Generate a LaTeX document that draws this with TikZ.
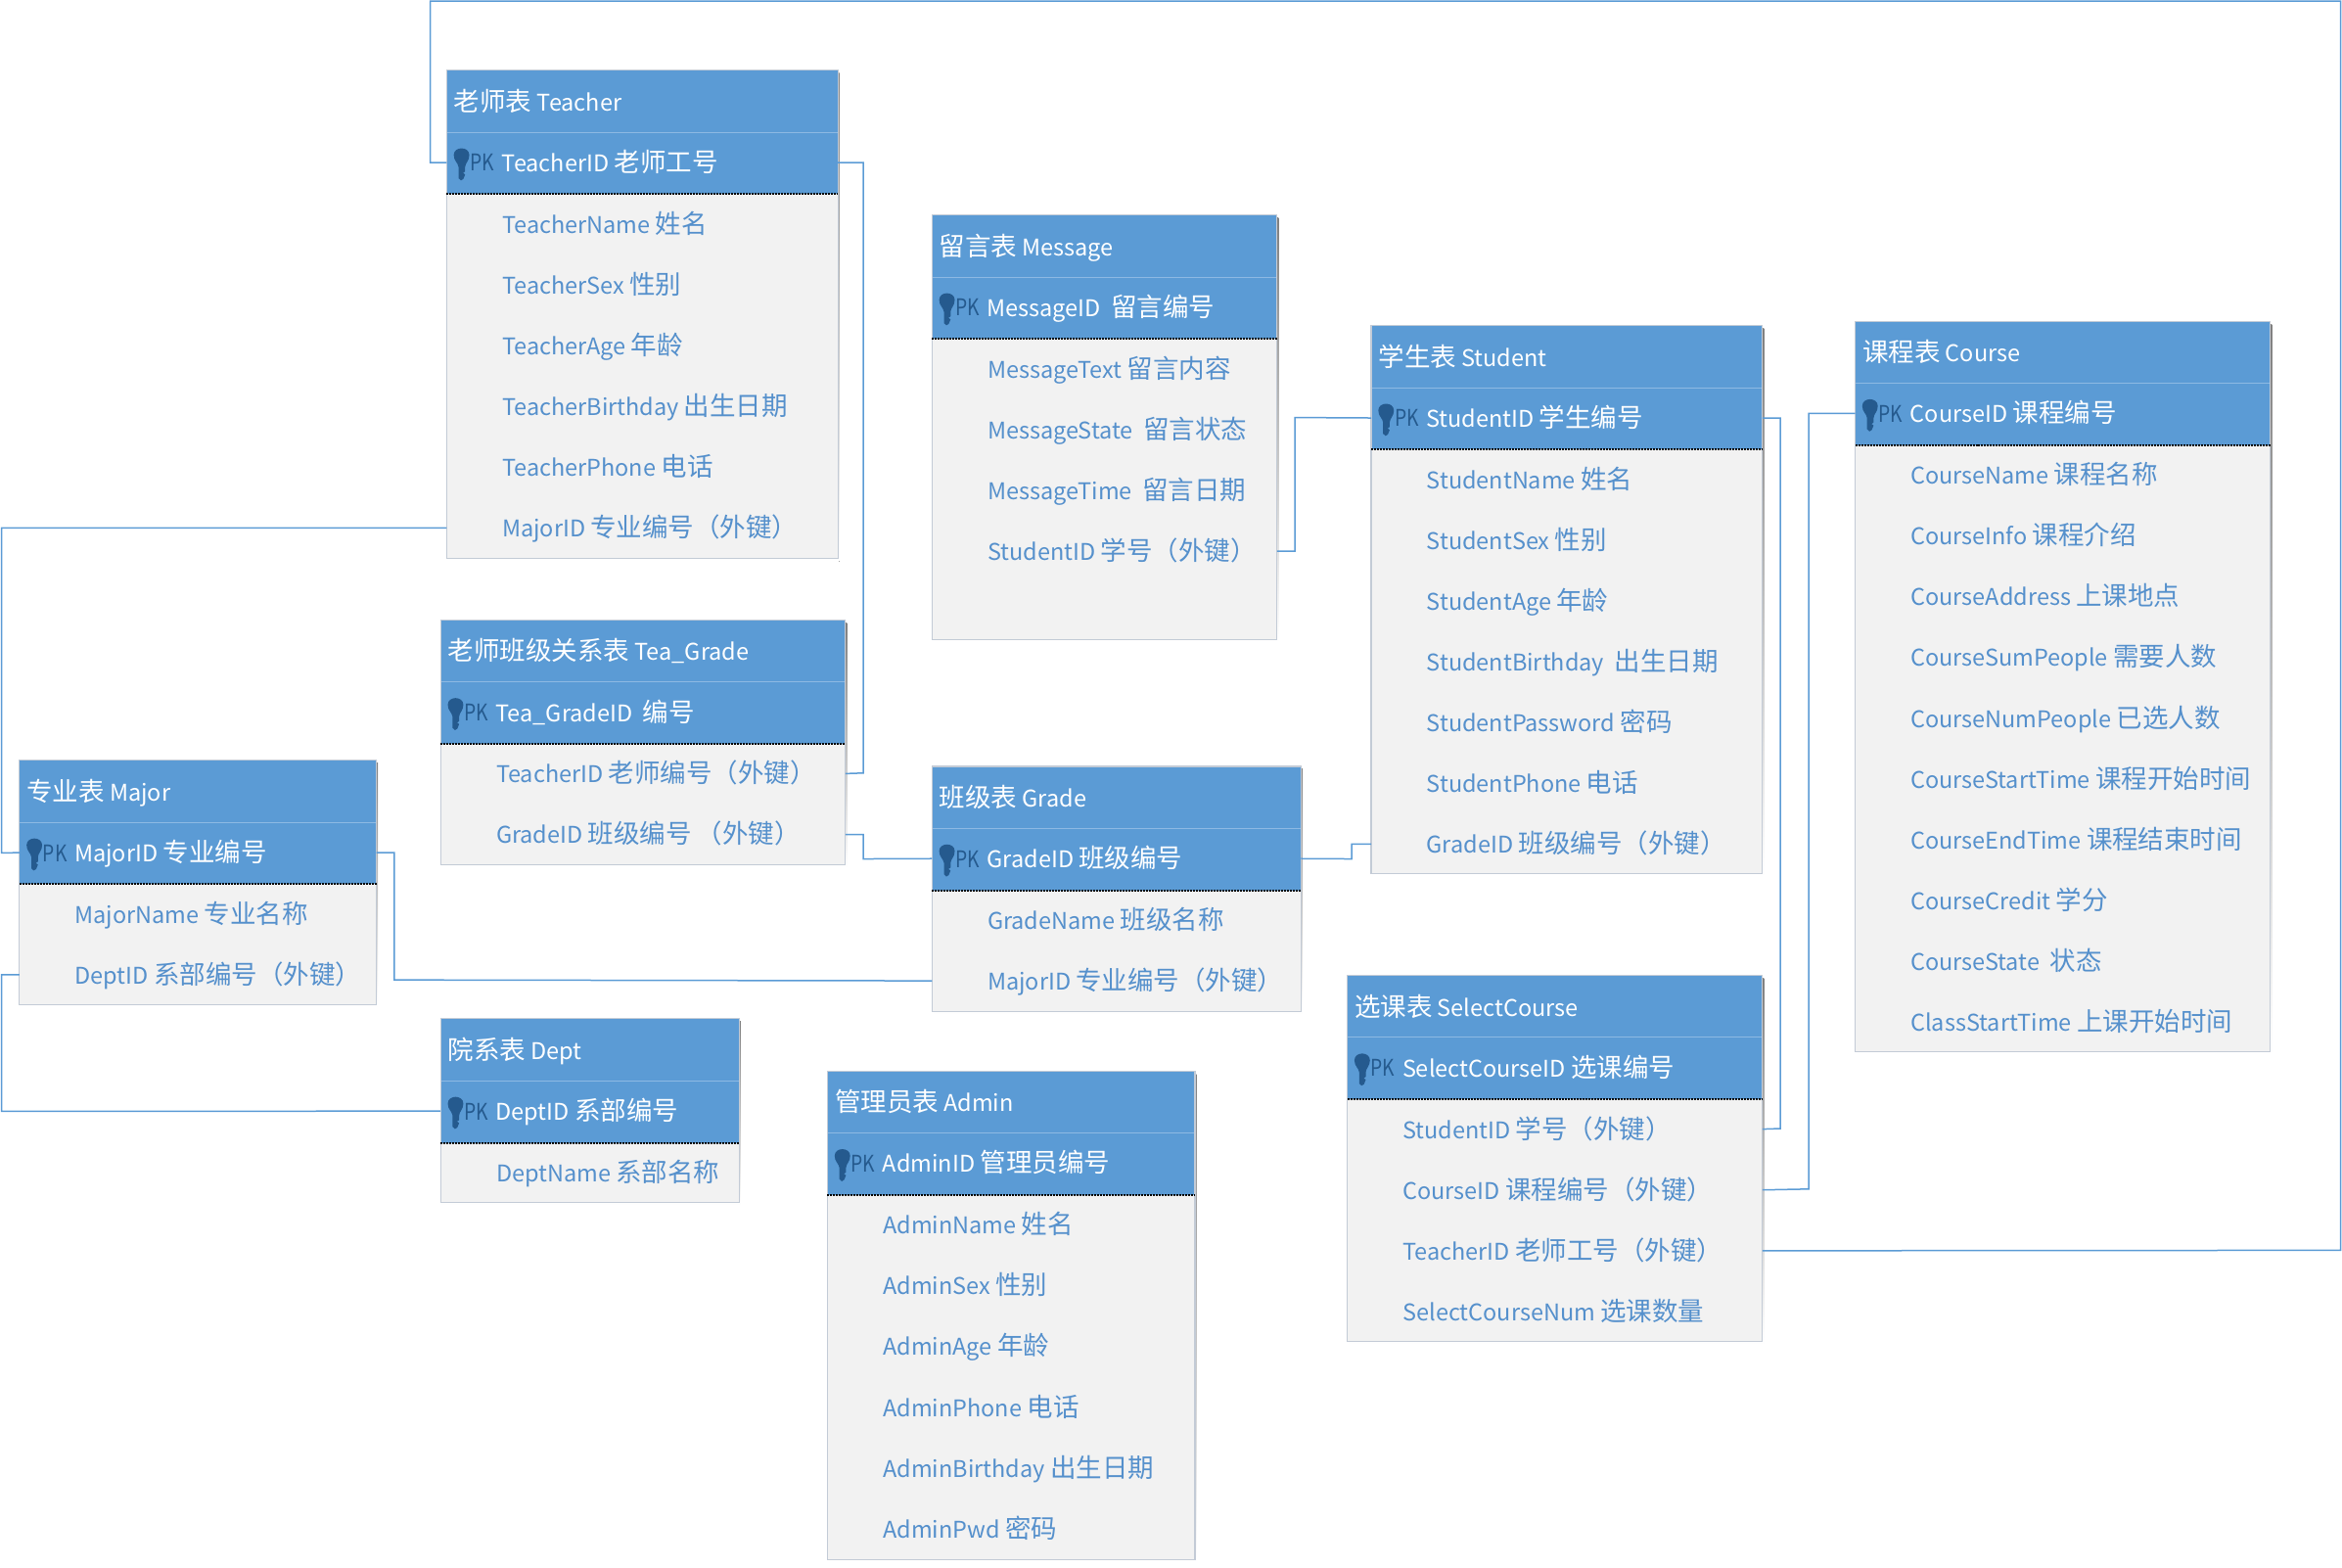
\documentclass[tikz,border=0pt]{standalone}
\usepackage{fontspec}
\setmainfont[Scale=0.886]{Noto Sans CJK SC}
\newfontfamily\latf[Scale=0.886]{Noto Sans CJK SC}
\newfontfamily\cjkf{Noto Sans CJK SC}
% automatic switch: CJK characters in full size, Latin ones slightly smaller
\XeTeXinterchartokenstate=1
\newXeTeXintercharclass\cjkclass
\newcount\cjkcnt
\cjkcnt="4E00
\loop\ifnum\cjkcnt<"A000
  \XeTeXcharclass\cjkcnt=\cjkclass
  \advance\cjkcnt by 1
\repeat
\XeTeXcharclass"FF08=\cjkclass
\XeTeXcharclass"FF09=\cjkclass
\XeTeXinterchartoks 0 \cjkclass={\cjkf}
\XeTeXinterchartoks 4095 \cjkclass={\cjkf}
\XeTeXinterchartoks \cjkclass 0={\latf}
\XeTeXinterchartoks \cjkclass 4095={\latf}
\definecolor{hdr}{HTML}{5B9BD5}
\definecolor{hdrline}{HTML}{8DB9E3}
\definecolor{bodyc}{HTML}{F2F2F2}
\definecolor{edge}{HTML}{C3CBD6}
\definecolor{shade}{HTML}{EBEEF5}
\definecolor{ftext}{HTML}{5590CC}
\definecolor{keyc}{HTML}{255A8E}
\tikzset{
  cell/.style={anchor=west,inner sep=0pt,outer sep=0pt,minimum height=31pt,
    font=\fontsize{13.25}{15}\selectfont,text height=12pt,text depth=2.6pt},
  titlecell/.style={cell,text=white},
  pkcell/.style={cell,text=white},
  fieldcell/.style={cell,text=ftext},
  pklabel/.style={anchor=west,inner sep=0pt,font=\fontsize{13.25}{15}\selectfont\latf,text=keyc},
  conn/.style={draw=hdr,line width=0.75pt},
  frame/.style={draw=edge,line width=0.6pt}
}
\newcommand\Cell[2]{\makebox[\curw][l]{\hspace*{#1}\latf #2}}
\newcommand\Tbl[7]{% id, x0, x1, top, bottom, title, pk text
  \def\curid{#1}\def\curx{#2}\def\curty{#4+21.5}
  \pgfmathsetlengthmacro\curw{(#3-#2)*0.7631pt}
  \fill[shade] (#2+1,#4+2) rectangle (#3+1,#5+2);
  \fill[bodyc] (#2,#4) rectangle (#3,#5);
  \fill[hdr] (#2,#4) rectangle (#3,#4+83);
  \draw[hdrline,line width=0.5pt] (#2,#4+41.5) -- (#3,#4+41.5);
  \draw[frame] (#2,#4) rectangle (#3,#5);
  \draw[black,line width=1pt,dash pattern=on 1pt off 0.5pt] (#2,#4+83) -- (#3,#4+83);
  \node[titlecell] (#1-t) at (#2,#4+21) {\Cell{3.8pt}{#6}};
  \node[pkcell] (#1-p) at (#2,#4+61.8) {\Cell{28.2pt}{#7}};
  \node[pklabel] (#1-l) at (#2+15.5,#4+62) {\scalebox{0.82}[1]{PK}};
  \begin{scope}[shift={(#2+10,#4+61.8)}]
    \fill[keyc] (-5.2,-5) .. controls (-5.2,-11) and (5.2,-11) .. (5.2,-5)
      .. controls (5.2,-1) and (2.6,0) .. (2.4,3) -- (2.4,6) -- (1,7) -- (2.4,8) -- (1.2,11)
      -- (-0.4,12) -- (-2,10.5) -- (-2,3) .. controls (-2.4,0) and (-5.2,-1) .. (-5.2,-5) -- cycle;
  \end{scope}
}
\newcommand\Fld[2]{% row number, text
  \node[fieldcell] (\curid-r#1) at (\curx,\curty+40.7*#1) {\Cell{28.4pt}{#2}};
}
\begin{document}
\begin{tikzpicture}[x=0.7631pt,y=-0.7631pt]
\useasboundingbox (0,0) rectangle (1568,1049.7);

\Tbl{tch}{299}{561}{47}{374}{老师表 Teacher}{TeacherID 老师工号}
\Fld{2}{TeacherName 姓名}
\Fld{3}{TeacherSex 性别}
\Fld{4}{TeacherAge 年龄}
\Fld{5}{TeacherBirthday 出生日期}
\Fld{6}{TeacherPhone 电话}
\Fld{7}{MajorID 专业编号（外键）}

\Tbl{msg}{624}{855}{144}{428}{留言表 Message}{MessageID\ \ 留言编号}
\Fld{2}{MessageText 留言内容}
\Fld{3}{MessageState\ \ 留言状态}
\Fld{4}{MessageTime\ \ 留言日期}
\Fld{5}{StudentID 学号（外键）}

\Tbl{stu}{918}{1180}{218}{585}{学生表 Student}{StudentID 学生编号}
\Fld{2}{StudentName 姓名}
\Fld{3}{StudentSex 性别}
\Fld{4}{StudentAge 年龄}
\Fld{5}{StudentBirthday\ \ 出生日期}
\Fld{6}{StudentPassword 密码}
\Fld{7}{StudentPhone 电话}
\Fld{8}{GradeID 班级编号（外键）}

\Tbl{crs}{1242}{1520}{215}{704}{课程表 Course}{CourseID 课程编号}
\Fld{2}{CourseName 课程名称}
\Fld{3}{CourseInfo 课程介绍}
\Fld{4}{CourseAddress 上课地点}
\Fld{5}{CourseSumPeople 需要人数}
\Fld{6}{CourseNumPeople 已选人数}
\Fld{7}{CourseStartTime 课程开始时间}
\Fld{8}{CourseEndTime 课程结束时间}
\Fld{9}{CourseCredit 学分}
\Fld{10}{CourseState\ \ 状态}
\Fld{11}{ClassStartTime 上课开始时间}

\Tbl{tgr}{295}{566}{415}{579}{老师班级关系表 Tea\_Grade}{Tea\_GradeID\ \ 编号}
\Fld{2}{TeacherID 老师编号（外键）}
\Fld{3}{GradeID 班级编号 （外键）}

\Tbl{grd}{624}{871}{513}{677}{班级表 Grade}{GradeID 班级编号}
\Fld{2}{GradeName 班级名称}
\Fld{3}{MajorID 专业编号（外键）}

\Tbl{maj}{13}{252}{509}{672.5}{专业表 Major}{MajorID 专业编号}
\Fld{2}{MajorName 专业名称}
\Fld{3}{DeptID 系部编号（外键）}

\Tbl{dep}{295}{495}{682}{805}{院系表 Dept}{DeptID 系部编号}
\Fld{2}{DeptName 系部名称}

\Tbl{adm}{554}{800}{717}{1044}{管理员表 Admin}{AdminID 管理员编号}
\Fld{2}{AdminName 姓名}
\Fld{3}{AdminSex 性别}
\Fld{4}{AdminAge 年龄}
\Fld{5}{AdminPhone 电话}
\Fld{6}{AdminBirthday 出生日期}
\Fld{7}{AdminPwd 密码}

\Tbl{sel}{902}{1180}{653}{898}{选课表 SelectCourse}{SelectCourseID 选课编号}
\Fld{2}{StudentID 学号（外键）}
\Fld{3}{CourseID 课程编号（外键）}
\Fld{4}{TeacherID 老师工号（外键）}
\Fld{5}{SelectCourseNum 选课数量}

% connectors
\draw[conn] (tch-p.west) -| (288,0.7) -| (1567,837) -- (sel-r4.east);
\draw[conn] (tch-p.east) -| (578,517.5) -- (tgr-r2.east);
\draw[conn] (tch-r7.west) -| (1,571) -- (maj-p.west);
\draw[conn] (msg-r5.east) -| (867,279.5) -- (stu-p.west);
\draw[conn] (stu-p.east) -| (1192,755.5) -- (sel-r2.east);
\draw[conn] (crs-p.west) -| (1211,796) -- (sel-r3.east);
\draw[conn] (stu-r8.west) -| (905,575) -- (grd-p.east);
\draw[conn] (tgr-r3.east) -| (578,575) -- (grd-p.west);
\draw[conn] (maj-p.east) -| (264,656) -- (grd-r3.west);
\draw[conn] (maj-r3.west) -| (1,744) -- (dep-p.west);
\end{tikzpicture}
\end{document}
